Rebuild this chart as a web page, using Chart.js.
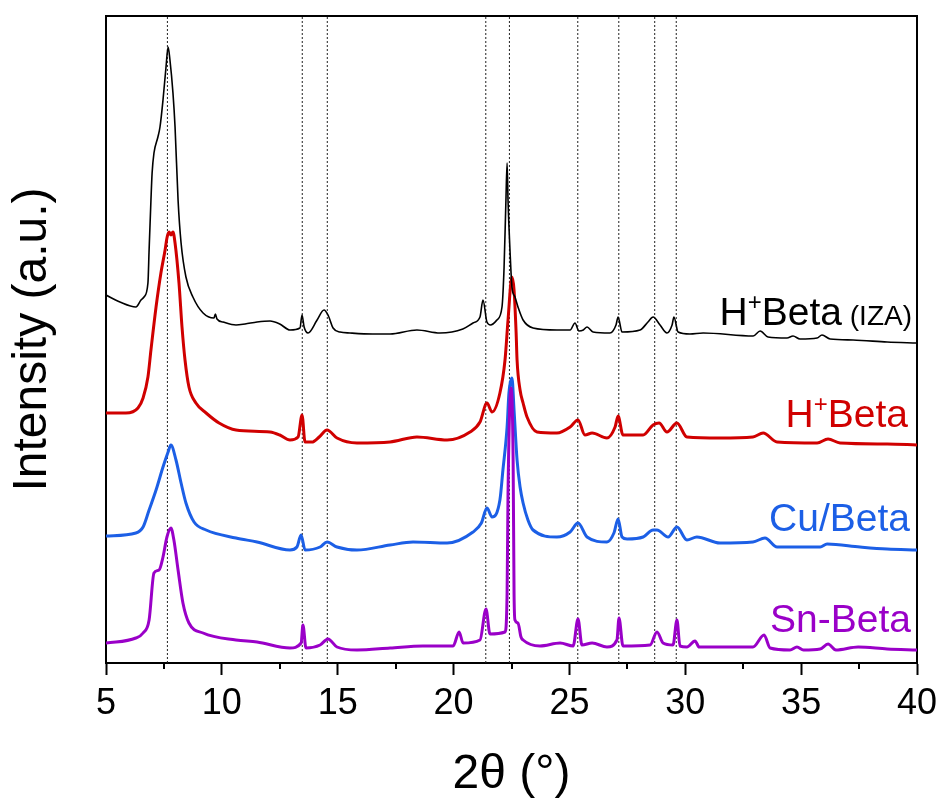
<!DOCTYPE html>
<html><head><meta charset="utf-8">
<script src="https://cdn.jsdelivr.net/npm/chart.js@4/dist/chart.umd.min.js"></script>
<style>html,body{margin:0;padding:0;background:#fff}#wrap{width:941px;height:799px;position:relative}</style>
</head><body><div id="wrap"><canvas id="c"></canvas></div>
<script>
// ---- data (2θ in degrees, intensity in arbitrary stacked units) ----
const xTickLabels = [5, 10, 15, 20, 25, 30, 35, 40];
const refPeaks = [7.65, 13.47, 14.55, 21.39, 22.41, 25.36, 27.13, 28.68, 29.61];
const seriesNames = ['H\u207ABeta (IZA)', 'H\u207ABeta', 'Cu/Beta', 'Sn-Beta'];

const tt_IZA = [5.0,5.6,6.29,6.51,6.64,6.81,6.86,6.94,6.99,7.07,7.24,7.33,7.46,7.59,7.68,7.76,7.89,7.98,8.11,8.24,8.45,8.75,9.19,9.66,9.72,9.79,10.05,10.61,11.0,11.52,12.08,12.5,12.94,13.37,13.46,13.55,13.72,14.11,14.41,14.6,14.8,15.1,15.53,16.5,17.26,18.42,19.41,20.4,20.84,21.14,21.27,21.44,21.6,21.87,22.09,22.18,22.26,22.31,22.35,22.44,22.52,22.65,22.78,23.0,23.43,24.46,25.03,25.24,25.41,25.6,25.76,26.02,26.75,27.01,27.1,27.27,28.05,28.39,28.61,28.91,29.21,29.43,29.51,29.69,30.2,30.77,32.93,33.23,33.57,34.39,34.65,34.95,35.69,35.9,36.25,37.24,38.71,40];
const I_IZA  = [368,361,356,363,366,380,413,463,490,510,526,536,563,596,616,603,570,536,463,420,386,366,350,345,349,344,341,338,339,341,342,339,333,335,348,336,330,343,353,347,335,331,330,329,329,333,330,334,340,346,363,341,338,343,356,396,463,500,463,410,376,366,356,343,335,333,333,340,332,333,336,331,330,338,346,331,333,341,346,338,330,338,346,331,329,330,327,332,326,325,327,324,325,328,324,323,321,320];

const tt_H = [5.0,5.86,6.38,6.6,6.81,6.94,7.16,7.37,7.55,7.63,7.72,7.8,7.89,7.98,8.15,8.28,8.41,8.58,8.88,9.32,9.88,10.61,12.08,12.5,12.94,13.29,13.46,13.59,13.89,14.2,14.54,14.97,15.83,17.26,18.42,19.72,20.71,21.14,21.44,21.66,22.0,22.22,22.35,22.52,22.61,22.7,22.74,22.87,23.0,23.17,23.6,24.46,25.03,25.37,25.67,25.98,26.62,26.97,27.1,27.31,28.18,28.61,28.87,29.21,29.64,30.07,31.5,32.92,33.36,33.96,35.69,36.16,36.68,38.71,40];
const I_H  = [250,250,255,265,286,313,356,390,413,425,431,428,431,420,380,336,303,276,260,250,240,233,231,228,223,226,248,221,221,226,233,225,220,221,226,223,231,241,260,251,270,303,343,386,373,330,303,273,260,246,231,230,236,243,228,230,225,236,247,228,228,238,240,231,240,226,225,226,230,221,220,224,220,219,218];

const tt_Cu = [5.0,6.29,6.6,6.86,7.16,7.46,7.68,7.8,8.02,8.24,8.45,8.8,9.32,10.61,11.52,12.94,13.24,13.42,13.59,14.24,14.54,14.97,15.83,17.26,18.25,19.72,20.84,21.2,21.44,21.66,22.0,22.13,22.31,22.39,22.52,22.61,22.74,22.87,23.0,23.21,23.43,24.46,25.03,25.37,25.76,26.62,26.92,27.1,27.27,27.49,28.18,28.61,28.78,29.26,29.64,30.07,30.5,31.5,32.92,33.44,33.96,35.82,36.12,37.54,38.71,40];
const I_Cu  = [127,130,136,153,173,196,211,218,203,180,160,141,133,125,121,113,116,128,113,116,121,116,113,118,121,120,131,140,155,146,163,193,236,270,285,253,203,176,160,143,133,126,131,140,126,121,130,144,126,124,126,133,133,126,136,123,126,120,121,125,116,116,119,116,114,113];

const tt_Sn = [5.0,6.29,6.6,6.86,7.07,7.29,7.46,7.63,7.8,7.93,8.11,8.32,8.58,9.19,10.61,11.52,12.94,13.42,13.5,13.63,14.24,14.58,14.97,15.83,17.26,18.68,19.98,20.24,20.41,21.14,21.4,21.57,22.22,22.31,22.35,22.48,22.57,22.61,22.65,22.78,22.91,23.0,23.73,24.6,25.16,25.37,25.54,25.98,26.62,27.05,27.14,27.31,28.48,28.78,29.04,29.47,29.64,29.77,30.07,30.42,30.6,32.92,33.4,33.66,34.52,34.82,35.1,35.82,36.16,36.5,37.46,38.71,40];
const I_Sn  = [20,25,30,43,90,93,106,126,135,123,93,60,40,30,23,21,15,20,38,15,18,24,16,13,15,17,17,31,20,23,54,29,31,70,170,275,203,70,43,40,26,23,17,20,17,44,18,20,16,23,45,17,18,31,20,18,43,17,16,22,16,16,28,15,13,16,13,14,19,13,16,14,13];

// ---- build chart ----
const FONT = 'Liberation Sans, Arial, Helvetica, sans-serif';
const colors = ['#000000', '#d00000', '#1c5fe6', '#9a00c8'];
const widths = [1.6, 3, 3, 3];
const seriesX = [tt_IZA, tt_H, tt_Cu, tt_Sn];
const seriesY = [I_IZA, I_H, I_Cu, I_Sn];
const drawOrder = [0, 2, 3, 1];

const datasets = seriesX.map((xs, i) => ({
  label: seriesNames[i],
  data: xs.map((x, j) => ({x: x, y: seriesY[i][j]})),
  borderColor: colors[i], borderWidth: widths[i],
  pointRadius: 0, cubicInterpolationMode: 'monotone', fill: false, order: drawOrder[i],
  borderJoinStyle: 'round', borderCapStyle: 'round'
}));
refPeaks.forEach(p => datasets.push({
  label: 'ref', data: [{x: p, y: 0}, {x: p, y: 647}],
  borderColor: '#222', borderWidth: 1, borderDash: [2, 2],
  pointRadius: 0, fill: false, order: 10
}));

const labelLayout = [
  {color: colors[0], right: 912, baseline: 325, small: ' (IZA)'},
  {color: colors[1], right: 908, baseline: 427},
  {color: colors[2], right: 910, baseline: 531},
  {color: colors[3], right: 911, baseline: 632}
];

const extrasPlugin = {
  id: 'extras',
  afterDraw(chart) {
    const ctx = chart.ctx;
    const xs = chart.scales.x;
    const bottom = chart.chartArea.bottom;
    ctx.save();
    // minor ticks
    ctx.strokeStyle = '#000'; ctx.lineWidth = 2;
    for (let k = 0; k < xTickLabels.length - 1; k++) {
      const v = (xTickLabels[k] + xTickLabels[k + 1]) / 2;
      const px = Math.round(xs.getPixelForValue(v));
      ctx.beginPath(); ctx.moveTo(px, bottom); ctx.lineTo(px, bottom + 6); ctx.stroke();
    }
    // series labels
    ctx.textBaseline = 'alphabetic';
    seriesNames.forEach((name, i) => {
      const L = labelLayout[i];
      let parts;
      const base = name.replace(' (IZA)', '');
      if (base.indexOf('\u207A') >= 0) {
        const s = base.split('\u207A');
        parts = [[s[0], 39, 0], ['+', 24, -15], [s[1], 39, 0]];
      } else parts = [[base, 39, 0]];
      if (L.small) parts.push([L.small, 28, 0]);
      let total = 0;
      parts.forEach(p => { ctx.font = p[1] + 'px ' + FONT; p.push(ctx.measureText(p[0]).width); total += p[3]; });
      let x = L.right - total;
      ctx.fillStyle = L.color; ctx.textAlign = 'left';
      parts.forEach(p => { ctx.font = p[1] + 'px ' + FONT; ctx.fillText(p[0], x, L.baseline + p[2]); x += p[3]; });
    });
    ctx.restore();
  }
};

new Chart(document.getElementById('c'), {
  type: 'line',
  data: {datasets},
  options: {
    responsive: true, maintainAspectRatio: false, animation: false,
    layout: {padding: 0},
    plugins: {legend: {display: false}, tooltip: {enabled: false}},
    scales: {
      x: {
        type: 'linear', position: 'bottom', min: 5, max: 40,
        ticks: {stepSize: 5, color: '#000', padding: 0, font: {family: FONT, size: 36, lineHeight: 1.64},
          callback: v => xTickLabels.includes(v) ? String(v) : ''},
        grid: {drawOnChartArea: false, tickLength: 12, tickWidth: 2, tickColor: '#000'},
        border: {display: true, width: 2, color: '#000'},
        title: {display: true, text: '2\u03B8 (\u00B0)', color: '#000', font: {family: FONT, size: 48, lineHeight: 1}, padding: 0},
        afterFit: s => { s.height = 136; }
      },
      x2: {
        type: 'linear', position: 'top', min: 5, max: 40,
        ticks: {display: false}, grid: {display: false},
        border: {display: true, width: 2, color: '#000'},
        afterFit: s => { s.height = 16; }
      },
      y: {
        type: 'linear', position: 'left', min: 0, max: 647,
        ticks: {display: false}, grid: {display: false},
        border: {display: true, width: 2, color: '#000'},
        title: {display: true, text: 'Intensity (a.u.)', color: '#000', font: {family: FONT, size: 48, lineHeight: 1}, padding: {top: 9, bottom: 0}},
        afterFit: s => { s.width = 106; }
      },
      y2: {
        type: 'linear', position: 'right', min: 0, max: 647,
        ticks: {display: false}, grid: {display: false},
        border: {display: true, width: 2, color: '#000'},
        afterFit: s => { s.width = 24; }
      }
    }
  },
  plugins: [extrasPlugin]
});
</script>
</body></html>
